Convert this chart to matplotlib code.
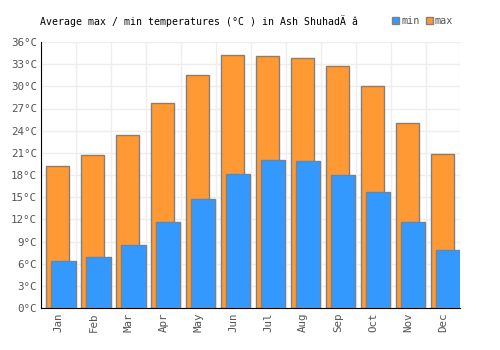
import matplotlib
matplotlib.use('Agg')
import matplotlib.pyplot as plt
from matplotlib.patches import Patch

months = ['Jan', 'Feb', 'Mar', 'Apr', 'May', 'Jun', 'Jul', 'Aug', 'Sep', 'Oct', 'Nov', 'Dec']
t_max = [19.2, 20.7, 23.4, 27.8, 31.6, 34.3, 34.1, 33.8, 32.7, 30.0, 25.0, 20.8]
t_min = [6.4, 6.9, 8.5, 11.6, 14.7, 18.1, 20.0, 19.9, 18.0, 15.7, 11.6, 7.9]
y_ticks = list(range(0, 37, 3))

orange = '#ff9933'
blue = '#3399ff'
edge = '#808080'

plt.rcParams['font.family'] = 'DejaVu Sans Mono'

fig = plt.figure(figsize=(5, 3.5), dpi=100)
ax = fig.add_axes([0.082, 0.12, 0.839, 0.76])

x = list(range(len(months)))
ax.bar([i + 0.143 for i in x], t_max, width=0.667, align='edge',
       color=orange, edgecolor=edge, linewidth=1, zorder=2)
ax.bar([i + 0.29 for i in x], t_min, width=0.70, align='edge',
       color=blue, edgecolor=edge, linewidth=1, zorder=3)

ax.set_xlim(0, 12)
ax.set_ylim(0, 36)
ax.set_xticks([i + 0.5 for i in x])
ax.set_xticklabels(months, rotation=90)
ax.set_xticks(range(0, 13), minor=True)
ax.set_yticks(y_ticks)
ax.set_yticklabels([f'{v}°C' for v in y_ticks])

ax.set_axisbelow(True)
ax.grid(True, which='minor', axis='x', color='#eeeeee', linewidth=1)
ax.grid(True, which='major', axis='y', color='#eeeeee', linewidth=1)
ax.tick_params(which='both', length=0, labelsize=7.8, colors='#555555', pad=3)

for s in ['top', 'right']:
    ax.spines[s].set_visible(False)
ax.spines['left'].set_color('black')
ax.spines['bottom'].set_color('black')

fig.text(0.08, 0.94, 'Average max / min temperatures (°C ) in Ash ShuhadÄ â',
         fontsize=7.1, color='black', va='center', ha='left')

handles = [Patch(facecolor=blue, edgecolor=edge, label='min'),
           Patch(facecolor=orange, edgecolor=edge, label='max')]
leg = fig.legend(handles=handles, loc='center', bbox_to_anchor=(0.845, 0.94), ncol=2,
                 frameon=False, fontsize=7.3, handlelength=0.7, handleheight=0.7,
                 handletextpad=0.2, columnspacing=0.6)
for t in leg.get_texts():
    t.set_color('#555555')

fig.savefig('out.png', dpi=100)
